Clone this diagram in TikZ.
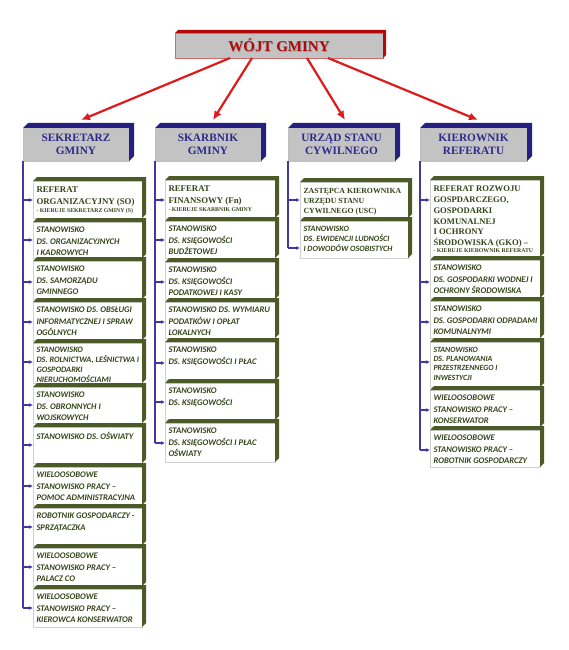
\documentclass[tikz,border=0pt]{standalone}
\usepackage{fontspec}
\setmainfont{Liberation Serif}
\newfontfamily\calfont{Carlito}
\usetikzlibrary{calc,arrows.meta}
\definecolor{hnavy}{HTML}{261E80}
\definecolor{htext}{HTML}{2E2A8A}
\definecolor{olivedk}{HTML}{4B5A26}
\definecolor{olivetx}{HTML}{34451A}
\definecolor{linev}{HTML}{4536A6}
\definecolor{redar}{HTML}{E01A1C}
\definecolor{wred}{HTML}{B00A0A}
\definecolor{hgray}{HTML}{C3C3C3}
\newcommand\stf{\calfont\bfseries\itshape\fontsize{8.6}{11.5}\selectfont}
\newcommand\stfs{\calfont\bfseries\itshape\fontsize{8.3}{10}\selectfont}
\newcommand\sef{\rmfamily\bfseries\fontsize{8.8}{12}\selectfont}
\newcommand\smf{\rmfamily\bfseries\fontsize{5.8}{7}\selectfont}
\newcommand\shadowtext[1]{\makebox[0pt][l]{\hspace{0.8pt}\raisebox{-0.8pt}{\textcolor{black!40}{#1}}}#1}
\newcommand\extr[3]{\fill[#2] (#1.north west) -- ($(#1.north west)+(#3,-#3)$) -- ($(#1.north east)+(#3,-#3)$) -- ($(#1.south east)+(#3,-#3)$) -- (#1.south east) -- (#1.north east) -- cycle;}
\newcommand\cbox[6]{\node[cbox] (#1) at (#2,#3) {\parbox[c][\dimexpr #5pt-#3pt-6pt\relax][t]{\dimexpr #4pt-#2pt-7pt\relax}{\raggedright\rightskip=0pt plus 1fil minus 3pt\relax #6}};
\extr{#1}{olivedk}{4}}
\newcommand\carr[3]{\coordinate (#2-a) at ($(#2.north west)+(0,#3)$); \draw[harr] (#1.south west |- #2-a) -- (#2-a);}
\begin{document}
\begin{tikzpicture}[x=1pt,y=-1pt,
 cbox/.style={draw=black!18, line width=0.4pt, fill=white, inner xsep=3.5pt, inner ysep=3pt, outer sep=0pt, text=olivetx, anchor=north west},
 hbox/.style={draw=black!25, fill=hgray, text=htext, align=center, inner sep=0pt, outer sep=0pt, anchor=north west, minimum height=33pt, font=\bfseries\fontsize{11.3}{13.5}\selectfont},
 hline/.style={draw=linev, line width=1.3pt},
 harr/.style={hline, -{Latex[length=4pt,width=3.8pt]}},
 rarr/.style={draw=redar, line width=2.2pt, -{Latex[length=9pt,width=8pt]}}]
\fill[white] (0,0) rectangle (568,650);
\useasboundingbox (0,0) rectangle (568,650);
% top
\node[draw=wred!60, fill=hgray, minimum width=208pt, minimum height=25pt, anchor=north west, inner sep=0pt, outer sep=0pt, text=wred, font=\bfseries\fontsize{15}{18}\selectfont] (wojt) at (175,33) {\shadowtext{WÓJT GMINY}};
\extr{wojt}{wred}{3}
% headers
\node[hbox, minimum width=106pt] (h1) at (23,128) {SEKRETARZ\\GMINY};
\node[hbox, minimum width=106pt] (h2) at (155,128) {SKARBNIK\\GMINY};
\node[hbox, minimum width=107pt] (h3) at (288,128) {URZĄD STANU\\CYWILNEGO};
\node[hbox, minimum width=107pt] (h4) at (420,128) {KIEROWNIK\\REFERATU};
\extr{h1}{hnavy}{5}\extr{h2}{hnavy}{5}\extr{h3}{hnavy}{5}\extr{h4}{hnavy}{5}
\draw[rarr] ($(wojt.south west)+(55,0)$) -- ($(h1.north west)+(58,-8)$);
\draw[rarr] ($(wojt.south west)+(77,0)$) -- ($(h2.north west)+(58,-8)$);
\draw[rarr] ($(wojt.south west)+(132,0)$) -- ($(h3.north west)+(57,-8)$);
\draw[rarr] ($(wojt.south west)+(153,0)$) -- ($(h4.north west)+(58,-8)$);
% column 1
\cbox{a1}{33}{181}{142}{218}{\vspace*{3pt}\sef REFERAT\\ORGANIZACYJNY (SO)\\[-4pt]{\smf - KIERUJE SEKRETARZ GMINY (S)}}
\cbox{a2}{33}{222}{142}{258}{\vspace*{2pt}\stf STANOWISKO\\DS. ORGANIZACYJNYCH\\I KADROWYCH}
\cbox{a3}{33}{261}{142}{299}{\vspace*{2pt}\stf STANOWISKO\\DS. SAMORZĄDU\\GMINNEGO}
\cbox{a4}{33}{302}{142}{340}{\vspace*{2pt}\stf STANOWISKO DS. OBSŁUGI\\INFORMATYCZNEJ I SPRAW\\OGÓLNYCH}
\cbox{a5}{33}{343}{142}{383}{\vspace*{1pt}\stfs STANOWISKO\\DS. ROLNICTWA, LEŚNICTWA I\\GOSPODARKI\\NIERUCHOMOŚCIAMI}
\cbox{a6}{33}{387}{142}{423}{\vspace*{2pt}\stf STANOWISKO\\DS. OBRONNYCH I\\WOJSKOWYCH}
\cbox{a7}{33}{427}{142}{463}{\vspace*{2pt}\stf STANOWISKO DS. OŚWIATY}
\cbox{a8}{33}{467}{142}{505}{\vspace*{2pt}\stf WIELOOSOBOWE\\STANOWISKO PRACY –\\POMOC ADMINISTRACYJNA}
\cbox{a9}{33}{508}{142}{545}{\vspace*{2pt}\stf ROBOTNIK GOSPODARCZY -\\SPRZĄTACZKA}
\cbox{a10}{33}{548}{142}{586}{\vspace*{2pt}\stf WIELOOSOBOWE\\STANOWISKO PRACY –\\PALACZ CO}
\cbox{a11}{33}{589}{142}{627}{\vspace*{2pt}\stf WIELOOSOBOWE\\STANOWISKO PRACY –\\KIEROWCA KONSERWATOR}
\carr{h1}{a1}{19}\carr{h1}{a2}{18}\carr{h1}{a3}{21}\carr{h1}{a4}{20}\carr{h1}{a5}{19}\carr{h1}{a6}{18}
\carr{h1}{a7}{18}\carr{h1}{a8}{19}\carr{h1}{a9}{19}\carr{h1}{a10}{19}\carr{h1}{a11}{19}
\draw[hline] (h1.south west) -- (h1.south west |- a11-a);
% column 2
\cbox{b1}{165}{180}{275}{218}{\vspace*{3pt}\sef REFERAT\\FINANSOWY (Fn)\\[-4pt]{\smf - KIERUJE SKARBNIK GMINY}}
\cbox{b2}{165}{221}{275}{258}{\vspace*{2pt}\stf STANOWISKO\\DS. KSIĘGOWOŚCI\\BUDŻETOWEJ}
\cbox{b3}{165}{262}{275}{299}{\vspace*{2pt}\stf STANOWISKO\\DS. KSIĘGOWOŚCI\\PODATKOWEJ I KASY}
\cbox{b4}{165}{302}{275}{338}{\vspace*{2pt}\stf STANOWISKO DS. WYMIARU\\PODATKÓW I OPŁAT\\LOKALNYCH}
\cbox{b5}{165}{342}{275}{380}{\vspace*{2pt}\stf STANOWISKO\\DS. KSIĘGOWOŚCI I PŁAC}
\cbox{b6}{165}{383}{275}{420}{\vspace*{2pt}\stf STANOWISKO\\DS. KSIĘGOWOŚCI}
\cbox{b7}{165}{423}{275}{462}{\vspace*{2pt}\stf STANOWISKO\\DS. KSIĘGOWOŚCI I PŁAC\\OŚWIATY}
\carr{h2}{b1}{20}\carr{h2}{b2}{19}\carr{h2}{b3}{20}\carr{h2}{b4}{20}\carr{h2}{b5}{21}\carr{h2}{b6}{19}\carr{h2}{b7}{20}
\draw[hline] (h2.south west) -- (h2.south west |- b7-a);
% column 3
\cbox{c1}{300}{182}{408}{218}{\vspace*{3pt}\rmfamily\bfseries\fontsize{7.8}{10}\selectfont ZASTĘPCA KIEROWNIKA\\URZĘDU STANU\\CYWILNEGO (USC)}
\cbox{c2}{300}{221}{408}{258}{\vspace*{2pt}\calfont\bfseries\itshape\fontsize{8.1}{10.2}\selectfont STANOWISKO\\DS. EWIDENCJI LUDNOŚCI\\I DOWODÓW OSOBISTYCH}
\carr{h3}{c1}{18}\carr{h3}{c2}{27}
\draw[hline] (h3.south west) -- (h3.south west |- c2-a);
% column 4
\cbox{d1}{430}{180}{540}{257}{\vspace*{3pt}\rmfamily\bfseries\fontsize{8.6}{10.8}\selectfont REFERAT ROZWOJU\\GOSPDARCZEGO,\\GOSPODARKI\\KOMUNALNEJ\\I OCHRONY\\ŚRODOWISKA (GKO) –\\[-3.5pt]{\smf - KIERUJE KIEROWNIK REFERATU}}
\cbox{d2}{430}{260}{540}{298}{\vspace*{2pt}\stf STANOWISKO\\DS. GOSPODARKI WODNEJ I\\OCHRONY ŚRODOWISKA}
\cbox{d3}{430}{301}{540}{338}{\vspace*{2pt}\stf STANOWISKO\\DS. GOSPODARKI ODPADAMI\\KOMUNALNYMI}
\cbox{d4}{430}{342}{540}{387}{\vspace*{2pt}\calfont\bfseries\itshape\fontsize{7.9}{9.4}\selectfont STANOWISKO\\DS. PLANOWANIA\\PRZESTRZENNEGO I\\INWESTYCJI}
\cbox{d5}{430}{390}{540}{427}{\vspace*{2pt}\stf WIELOOSOBOWE\\STANOWISKO PRACY –\\KONSERWATOR}
\cbox{d6}{430}{430}{540}{467}{\vspace*{2pt}\stf WIELOOSOBOWE\\STANOWISKO PRACY –\\ROBOTNIK GOSPODARCZY}
\carr{h4}{d1}{20}\carr{h4}{d2}{22}\carr{h4}{d3}{21}\carr{h4}{d4}{20}\carr{h4}{d5}{20}\carr{h4}{d6}{20}
\draw[hline] (h4.south west) -- (h4.south west |- d6-a);
\end{tikzpicture}
\end{document}
